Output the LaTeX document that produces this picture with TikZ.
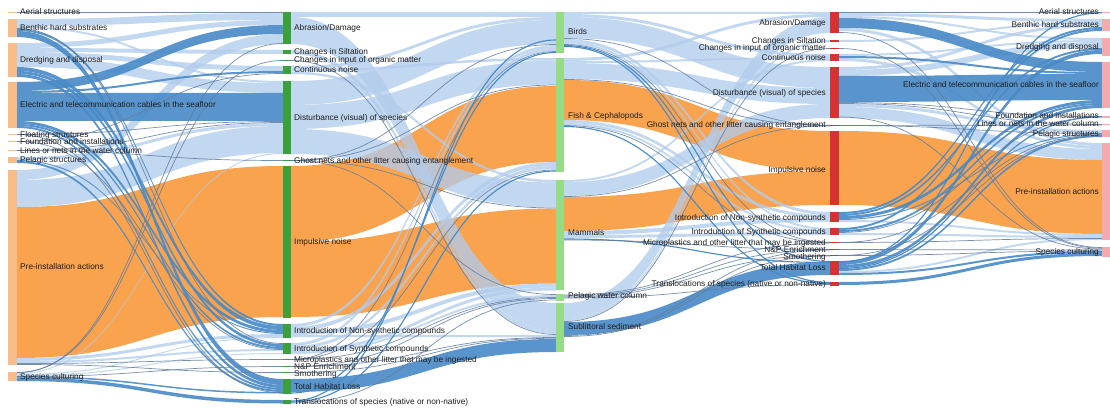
\documentclass[tikz,border=0pt]{standalone}
\usepackage{fontspec}
\setmainfont{Liberation Sans}
\definecolor{flowlb}{RGB}{178,204,236}
\definecolor{floworg}{RGB}{249,163,79}
\definecolor{flowstl}{RGB}{72,138,199}
\definecolor{flowthin}{RGB}{96,124,160}
\definecolor{colA}{RGB}{248,188,136}
\definecolor{colB}{RGB}{58,160,58}
\definecolor{colC}{RGB}{150,220,132}
\definecolor{colD}{RGB}{214,50,50}
\definecolor{colE}{RGB}{245,170,176}
\definecolor{labtext}{RGB}{30,30,30}

% x positions of the four link sections (left and right ends)
\def\secLA{17}\def\secRA{283}
\def\secLB{291}\def\secRB{556}
\def\secLC{564}\def\secRC{830}
\def\secLD{839}\def\secRD{1102}

% a filled link: section, source top, source bottom, target top, target bottom, style
\newcommand{\band}[6]{%
  \edef\bxl{\csname secL#1\endcsname}\edef\bxr{\csname secR#1\endcsname}%
  \pgfmathsetmacro\bxm{(\bxl+\bxr)/2}%
  \fill[#6] (\bxl,#2) .. controls (\bxm,#2) and (\bxm,#4) .. (\bxr,#4)
    -- (\bxr,#5) .. controls (\bxm,#5) and (\bxm,#3) .. (\bxl,#3) -- cycle;}
% a hairline link: section, source y, target y, style
\newcommand{\lnk}[4]{%
  \edef\bxl{\csname secL#1\endcsname}\edef\bxr{\csname secR#1\endcsname}%
  \pgfmathsetmacro\bxm{(\bxl+\bxr)/2}%
  \draw[#4] (\bxl,#2) .. controls (\bxm,#2) and (\bxm,#3) .. (\bxr,#3);}
% a node bar: name, x, width, top, height, colour
\newcommand{\nbar}[6]{%
  \node[bar, fill=#6, minimum width=#3pt, minimum height=#5pt] (#1) at (#2,#4) {};}

\begin{document}
\begin{tikzpicture}[x=1pt,y=-1pt,
  lb/.style={fill=flowlb, fill opacity=0.78},
  org/.style={fill=floworg},
  stl/.style={fill=flowstl, fill opacity=0.9},
  thn/.style={draw=flowthin, line width=0.7pt, draw opacity=0.85},
  thns/.style={draw=flowstl, line width=1.1pt},
  lab/.style={font=\fontsize{8.3}{9}\selectfont, text=labtext, inner sep=0pt,
    text height=6pt, text depth=1pt},
  bar/.style={inner sep=0pt, outer sep=0pt, anchor=north west, draw=none}]
\useasboundingbox (0,0) rectangle (1110,409);
\fill[white] (0,0) rectangle (1110,409);

% ---------- orange links ----------
\band{A}{207}{358}{166}{317}{org}
\band{B}{166}{242}{86}{162}{org}
\band{B}{242}{317}{208.5}{283.5}{org}
\band{C}{80}{120}{131}{171}{org}
\band{C}{197}{231}{171}{205}{org}
\band{D}{131}{205}{160}{234}{org}

% ---------- light links ----------
% activities -> pressures
\band{A}{19}{26}{13}{20}{lb}
\band{A}{26}{28}{81}{83}{lb}
\band{A}{43}{48}{20}{25}{lb}
\band{A}{48}{52}{50}{54}{lb}
\band{A}{52}{57}{66}{71}{lb}
\band{A}{57}{67}{83}{93}{lb}
\band{A}{157}{160}{123}{126}{lb}
\band{A}{170}{180}{34}{44}{lb}
\band{A}{180}{207}{126}{153}{lb}
\band{A}{358}{361}{334}{337}{lb}
\band{A}{361}{363}{349}{351}{lb}
\band{A}{373}{374}{153}{154}{lb}
\band{A}{374}{375}{337}{338}{lb}
\band{A}{375}{376}{353}{354}{lb}
% pressures -> receptors
\band{B}{12}{17}{12}{17}{lb}
\band{B}{17}{44}{303}{330}{lb}
\band{B}{50}{54}{330}{334}{lb}
\band{B}{66}{69}{17}{20}{lb}
\band{B}{69}{71.5}{58}{60.5}{lb}
\band{B}{71.5}{74}{180}{182.5}{lb}
\band{B}{81}{105}{20}{44}{lb}
\band{B}{105}{129}{60.5}{84.5}{lb}
\band{B}{129}{154}{182.5}{207.5}{lb}
\band{B}{324}{327}{45}{48}{lb}
\band{B}{327}{331}{162}{166}{lb}
\band{B}{331}{335}{283.5}{287.5}{lb}
\band{B}{335}{337}{335}{337}{lb}
\band{B}{343}{346}{48}{51}{lb}
\band{B}{346}{349}{166}{169}{lb}
\band{B}{349}{352}{287.5}{290.5}{lb}
\band{B}{352}{354}{295}{297}{lb}
% receptors -> pressures
\band{C}{12}{14}{12}{14}{lb}
\band{C}{14}{17}{54}{57}{lb}
\band{C}{17}{38}{67}{88}{lb}
\band{C}{39}{42}{212}{215}{lb}
\band{C}{42}{44}{228}{230}{lb}
\band{C}{58}{61}{14}{17}{lb}
\band{C}{61}{63}{57}{59}{lb}
\band{C}{63}{79}{88}{104}{lb}
\band{C}{120}{123}{215}{218}{lb}
\band{C}{123}{125}{230}{232}{lb}
\band{C}{180}{182}{59}{61}{lb}
\band{C}{182}{196}{104}{118}{lb}
\band{C}{231}{235}{218}{222}{lb}
\band{C}{235}{238}{232}{235}{lb}
\band{C}{303}{319}{17}{33}{lb}
\band{C}{319}{321}{40}{42}{lb}
% pressures -> activities
\band{D}{13}{16}{19}{22}{lb}
\band{D}{16}{18}{38}{40}{lb}
\band{D}{28}{31}{143}{146}{lb}
\band{D}{40}{42}{22}{24}{lb}
\band{D}{54}{56}{40}{42}{lb}
\band{D}{58}{61}{146}{149}{lb}
\band{D}{67}{70}{24}{27}{lb}
\band{D}{70}{76}{42}{48}{lb}
\band{D}{104}{107}{130}{133}{lb}
\band{D}{107}{118}{149}{160}{lb}
\band{D}{220}{222}{234}{236}{lb}
\band{D}{233}{235}{236}{238}{lb}
\band{D}{271}{273}{238}{240}{lb}

% ---------- dark blue links ----------
\band{A}{29}{31}{324}{326}{stl}
\band{A}{31}{37}{379}{385}{stl}
\band{A}{67}{71}{326}{330}{stl}
\band{A}{71}{74}{344}{347}{stl}
\band{A}{74}{77}{385}{388}{stl}
\band{A}{82}{91}{25}{34}{stl}
\band{A}{91}{93}{71}{73}{stl}
\band{A}{93}{121}{93}{121}{stl}
\band{A}{121}{124}{330}{333}{stl}
\band{A}{124}{126}{347}{349}{stl}
\band{A}{126}{128}{388}{390}{stl}
\band{A}{160}{161}{333}{334}{stl}
\band{A}{161}{163}{390}{392}{stl}
\band{A}{376}{377.5}{392}{393.5}{stl}
\band{A}{377.5}{381}{400}{403.5}{stl}
\band{B}{379}{392}{339}{352}{stl}
\band{C}{322}{335}{262}{275}{stl}
\band{D}{18}{28}{62}{72}{stl}
\band{D}{56}{58}{72}{74}{stl}
\band{D}{76}{102}{74}{100}{stl}
\band{D}{212}{214}{27}{29}{stl}
\band{D}{214}{216}{48}{50}{stl}
\band{D}{216}{219}{100}{103}{stl}
\band{D}{219}{220}{133.5}{134.5}{stl}
\band{D}{228}{230}{29}{31}{stl}
\band{D}{230}{232}{103}{105}{stl}
\band{D}{261}{265}{50}{54}{stl}
\band{D}{265}{268}{105}{108}{stl}
\band{D}{269}{271}{135}{137}{stl}
\band{D}{273}{275}{251}{253}{stl}
\band{D}{282}{285}{253}{256}{stl}

% ---------- hairline links ----------
\lnk{A}{12.5}{12.5}{thn}
\lnk{A}{28.5}{343.5}{thn}
\lnk{A}{134.5}{121.5}{thn}
\lnk{A}{134.5}{392.8}{thn}
\lnk{A}{141.5}{73.5}{thn}
\lnk{A}{141.5}{349.5}{thn}
\lnk{A}{150.5}{160.5}{thn}
\lnk{A}{150.5}{122.5}{thn}
\lnk{A}{363.5}{359.5}{thn}
\lnk{A}{364.5}{372.5}{thn}
\lnk{A}{372.5}{60.5}{thn}
\lnk{A}{372.5}{43.5}{thn}
\lnk{A}{376.5}{366.5}{thn}
\lnk{B}{60.5}{334.5}{thn}
\lnk{B}{160.5}{44.5}{thn}
\lnk{B}{160.5}{85}{thn}
\lnk{B}{160.5}{208}{thn}
\lnk{B}{160.5}{294.5}{thn}
\lnk{B}{359.5}{51.5}{thn}
\lnk{B}{359.5}{170}{thn}
\lnk{B}{359.5}{297.5}{thn}
\lnk{B}{366.5}{298.5}{thn}
\lnk{B}{366.5}{337.5}{thn}
\lnk{B}{372.5}{338.3}{thn}
\lnk{B}{393}{52.5}{thns}
\lnk{B}{401}{40}{thns}
\lnk{B}{402}{171}{thns}
\lnk{B}{403}{300}{thn}
\lnk{C}{38.5}{125.3}{thn}
\lnk{C}{44.5}{242.3}{thn}
\lnk{C}{45.5}{261.5}{thns}
\lnk{C}{46.5}{282.5}{thns}
\lnk{C}{79.5}{125.6}{thn}
\lnk{C}{125.5}{242.6}{thn}
\lnk{C}{126.5}{283.5}{thns}
\lnk{C}{196.5}{125.9}{thn}
\lnk{C}{239}{262.5}{thns}
\lnk{C}{240}{249.5}{thn}
\lnk{C}{295}{243}{thn}
\lnk{C}{296}{249.7}{thn}
\lnk{C}{297}{255.5}{thn}
\lnk{C}{298}{284.5}{thn}
\lnk{C}{321.5}{48.5}{thn}
\lnk{C}{335.5}{250}{thn}
\lnk{C}{336.5}{256}{thn}
\lnk{D}{12.5}{12.5}{thn}
\lnk{D}{32.5}{247.5}{thn}
\lnk{D}{48.5}{248.2}{thn}
\lnk{D}{102.5}{116.5}{thn}
\lnk{D}{103.5}{124.5}{thn}
\lnk{D}{117}{249}{thn}
\lnk{D}{125.5}{125}{thn}
\lnk{D}{125.5}{133.5}{thn}
\lnk{D}{232.5}{117}{thn}
\lnk{D}{242.5}{135}{thn}
\lnk{D}{242.5}{238.5}{thn}
\lnk{D}{249.5}{250}{thn}
\lnk{D}{255.5}{251}{thn}
\lnk{D}{255.5}{136}{thn}
\lnk{D}{262}{12.8}{thns}
\lnk{D}{268.5}{116.8}{thns}

% ---------- node bars ----------
\nbar{aerialA}{8}{9}{12}{1.2}{colA}
\nbar{benthicA}{8}{9}{19}{18}{colA}
\nbar{dredgingA}{8}{9}{43}{34}{colA}
\nbar{electricA}{8}{9}{82}{46}{colA}
\nbar{floatingA}{8}{9}{134}{1.2}{colA}
\nbar{foundationA}{8}{9}{141}{1.2}{colA}
\nbar{linesA}{8}{9}{150}{1.2}{colA}
\nbar{pelagicA}{8}{9}{157}{6}{colA}
\nbar{preA}{8}{9}{170}{195}{colA}
\nbar{speciesA}{8}{9}{372}{9}{colA}

\nbar{abrasionB}{283}{8}{12}{32}{colB}
\nbar{siltB}{283}{8}{50}{4}{colB}
\nbar{organicB}{283}{8}{60}{1.2}{colB}
\nbar{contB}{283}{8}{66}{8}{colB}
\nbar{distB}{283}{8}{81}{73}{colB}
\nbar{ghostB}{283}{8}{160}{1.2}{colB}
\nbar{impB}{283}{8}{166}{152}{colB}
\nbar{nonsynB}{283}{8}{324}{14}{colB}
\nbar{synB}{283}{8}{343}{11}{colB}
\nbar{microB}{283}{8}{359}{1.2}{colB}
\nbar{npB}{283}{8}{366}{1.2}{colB}
\nbar{smothB}{283}{8}{372}{1.2}{colB}
\nbar{thlB}{283}{8}{379}{15}{colB}
\nbar{translocB}{283}{8}{400}{4}{colB}

\nbar{birdsC}{556}{8}{12}{41}{colC}
\nbar{fishC}{556}{8}{58}{114}{colC}
\nbar{mammalsC}{556}{8}{180}{110}{colC}
\nbar{pelagicC}{556}{8}{294}{7}{colC}
\nbar{sublitC}{556}{8}{303}{49}{colC}

\nbar{abrasionD}{830}{9}{12}{21}{colD}
\nbar{siltD}{830}{9}{40}{2}{colD}
\nbar{organicD}{830}{9}{48}{1.2}{colD}
\nbar{contD}{830}{9}{54}{7}{colD}
\nbar{distD}{830}{9}{67}{51}{colD}
\nbar{ghostD}{830}{9}{125}{1.2}{colD}
\nbar{impD}{830}{9}{131}{74}{colD}
\nbar{nonsynD}{830}{9}{212}{10}{colD}
\nbar{synD}{830}{9}{228}{7}{colD}
\nbar{microD}{830}{9}{242}{1.2}{colD}
\nbar{npD}{830}{9}{249}{1.2}{colD}
\nbar{smothD}{830}{9}{255}{1.2}{colD}
\nbar{thlD}{830}{9}{261}{14}{colD}
\nbar{translocD}{830}{9}{282}{4}{colD}

\nbar{aerialE}{1102}{8}{12}{1.2}{colE}
\nbar{benthicE}{1102}{8}{19}{12}{colE}
\nbar{dredgingE}{1102}{8}{38}{18}{colE}
\nbar{electricE}{1102}{8}{62}{46}{colE}
\nbar{foundationE}{1102}{8}{116}{2}{colE}
\nbar{linesE}{1102}{8}{124}{1.2}{colE}
\nbar{pelagicE}{1102}{8}{130}{7}{colE}
\nbar{preE}{1102}{8}{143}{97}{colE}
\nbar{speciesE}{1102}{8}{247}{10}{colE}

% ---------- labels ----------
\begin{scope}[every node/.append style={lab, anchor=west}]
\node (tA1) at (20,12.5) {Aerial structures};
\node (tA2) at (20,28) {Benthic hard substrates};
\node (tA3) at (20,60) {Dredging and disposal};
\node (tA4) at (20,105) {Electric and telecommunication cables in the seafloor};
\node (tA5) at (20,134.5) {Floating structures};
\node (tA6) at (20,141.5) {Foundation and installations};
\node (tA7) at (20,150.5) {Lines or nets in the water column};
\node (tA8) at (20,160) {Pelagic structures};
\node (tA9) at (20,267) {Pre-installation actions};
\node (tA10) at (20,377) {Species culturing};

\node (tB1) at (294,28) {Abrasion/Damage};
\node (tB2) at (294,52) {Changes in Siltation};
\node (tB3) at (294,60.5) {Changes in input of organic matter};
\node (tB4) at (294,70) {Continuous noise};
\node (tB5) at (294,118) {Disturbance (visual) of species};
\node (tB6) at (294,160.5) {Ghost nets and other litter causing entanglement};
\node (tB7) at (294,242) {Impulsive noise};
\node (tB8) at (294,331) {Introduction of Non-synthetic compounds};
\node (tB9) at (294,349) {Introduction of Synthetic compounds};
\node (tB10) at (294,359.5) {Microplastics and other litter that may be ingested};
\node (tB11) at (294,366.5) {N\&P Enrichment};
\node (tB12) at (294,373.5) {Smothering};
\node (tB13) at (294,387) {Total Habitat Loss};
\node (tB14) at (294,402) {Translocations of species (native or non-native)};

\node (tC1) at (568,32) {Birds};
\node (tC2) at (568,116) {Fish \& Cephalopods};
\node (tC3) at (568,233) {Mammals};
\node (tC4) at (568,296) {Pelagic water column};
\node (tC5) at (568,327) {Sublittoral sediment};
\end{scope}

\begin{scope}[every node/.append style={lab, anchor=east}]
\node (tD1) at (826,23) {Abrasion/Damage};
\node (tD2) at (826,41) {Changes in Siltation};
\node (tD3) at (826,48.5) {Changes in input of organic matter};
\node (tD4) at (826,58) {Continuous noise};
\node (tD5) at (826,93) {Disturbance (visual) of species};
\node (tD6) at (826,125.5) {Ghost nets and other litter causing entanglement};
\node (tD7) at (826,170) {Impulsive noise};
\node (tD8) at (826,218) {Introduction of Non-synthetic compounds};
\node (tD9) at (826,232) {Introduction of Synthetic compounds};
\node (tD10) at (826,242.5) {Microplastics and other litter that may be ingested};
\node (tD11) at (826,249.5) {N\&P Enrichment};
\node (tD12) at (826,256.5) {Smothering};
\node (tD13) at (826,268) {Total Habitat Loss};
\node (tD14) at (826,284) {Translocations of species (native or non-native)};

\node (tE1) at (1099,12.5) {Aerial structures};
\node (tE2) at (1099,25) {Benthic hard substrates};
\node (tE3) at (1099,47) {Dredging and disposal};
\node (tE4) at (1099,85) {Electric and telecommunication cables in the seafloor};
\node (tE5) at (1099,116.5) {Foundation and installations};
\node (tE6) at (1099,124.5) {Lines or nets in the water column};
\node (tE7) at (1099,133.5) {Pelagic structures};
\node (tE8) at (1099,192) {Pre-installation actions};
\node (tE9) at (1099,252) {Species culturing};
\end{scope}
\end{tikzpicture}
\end{document}
